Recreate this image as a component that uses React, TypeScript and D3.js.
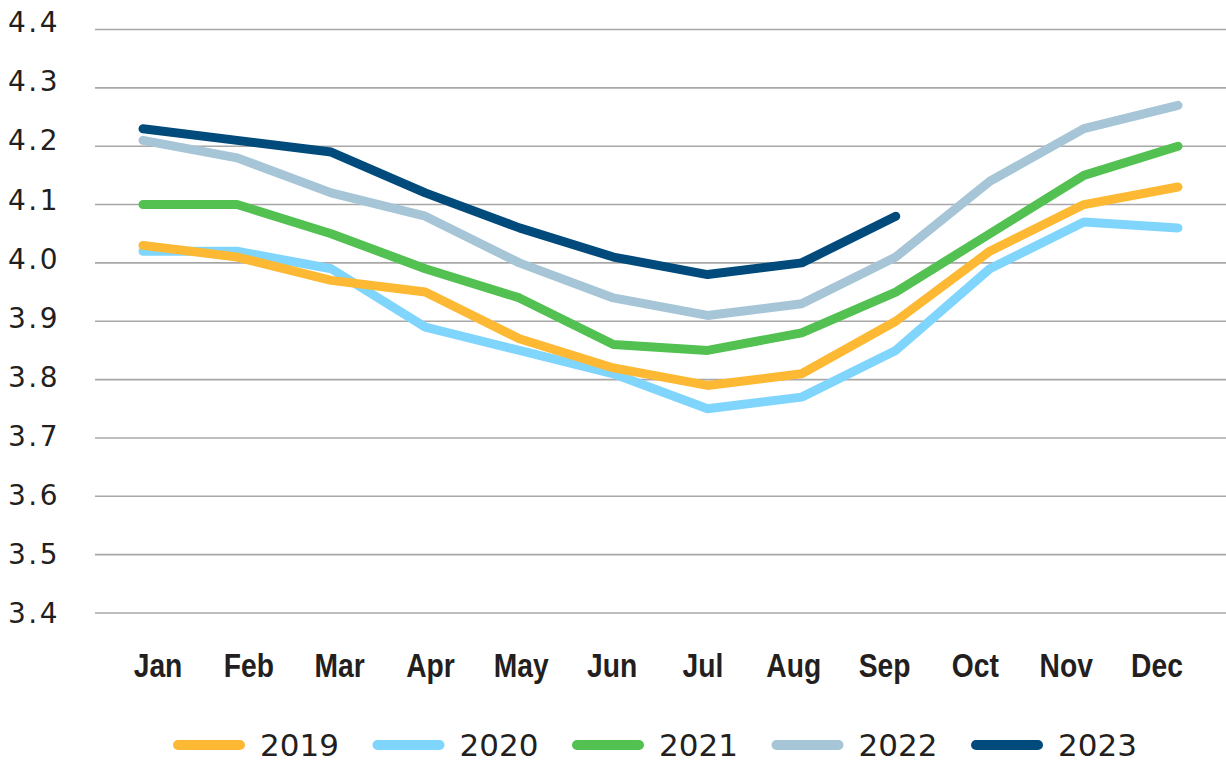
import React from "react";
import * as d3 from "d3";

const months = ["Jan", "Feb", "Mar", "Apr", "May", "Jun", "Jul", "Aug", "Sep", "Oct", "Nov", "Dec"];
const yTicks = [3.4, 3.5, 3.6, 3.7, 3.8, 3.9, 4.0, 4.1, 4.2, 4.3, 4.4];

const v2019 = [4.03, 4.01, 3.97, 3.95, 3.87, 3.82, 3.79, 3.81, 3.9, 4.02, 4.1, 4.13];
const v2020 = [4.02, 4.02, 3.99, 3.89, 3.85, 3.81, 3.75, 3.77, 3.85, 3.99, 4.07, 4.06];
const v2021 = [4.1, 4.1, 4.05, 3.99, 3.94, 3.86, 3.85, 3.88, 3.95, 4.05, 4.15, 4.2];
const v2022 = [4.21, 4.18, 4.12, 4.08, 4.0, 3.94, 3.91, 3.93, 4.01, 4.14, 4.23, 4.27];
const v2023 = [4.23, 4.21, 4.19, 4.12, 4.06, 4.01, 3.98, 4.0, 4.08];

const seriesNames = ["2019", "2020", "2021", "2022", "2023"];
const seriesColors = ["#FDB933", "#80D5FD", "#52C152", "#A6C5D7", "#004B7B"];
const seriesValues = [v2019, v2020, v2021, v2022, v2023];
// drawing order (2019 sits above 2020)
const drawOrder = [1, 0, 2, 3, 4];

const W = 1226;
const H = 761;
const TEXT = "#231F20";

export default function App() {
  const x = d3.scalePoint<string>().domain(months).range([143, 1178]);
  const xLabel = d3.scalePoint<string>().domain(months).range([158, 1157]);
  const y = d3.scaleLinear().domain([3.4, 4.4]).range([613, 29.5]);
  const yLabel = d3.scaleLinear().domain([3.4, 4.4]).range([623, 32.3]);
  const legendX = d3.scalePoint<string>().domain(seriesNames).range([173, 971]);

  const line = d3
    .line<number>()
    .x((_, i) => x(months[i]) as number)
    .y((d) => y(d));

  return (
    <svg
      width={W}
      height={H}
      style={{ position: "absolute", left: 0, top: 0, background: "#fff" }}
    >
      {yTicks.map((t) => (
        <g key={t}>
          <line x1={95} x2={W} y1={y(t)} y2={y(t)} stroke="#A8A8A8" strokeWidth={1.6} />
          <text
            x={8}
            y={yLabel(t)}
            fontFamily="DejaVu Sans, sans-serif"
            fontSize={28}
            letterSpacing={2.5}
            fill={TEXT}
          >
            {t.toFixed(1)}
          </text>
        </g>
      ))}
      {months.map((m) => (
        <text
          key={m}
          transform={`translate(${xLabel(m)},677) scale(0.83,1)`}
          textAnchor="middle"
          fontFamily="'Liberation Sans', Arial, sans-serif"
          fontWeight="bold"
          fontSize={34}
          fill={TEXT}
        >
          {m}
        </text>
      ))}
      {drawOrder.map((i) => (
        <path
          key={seriesNames[i]}
          d={line(seriesValues[i]) as string}
          fill="none"
          stroke={seriesColors[i]}
          strokeWidth={9}
          strokeLinecap="round"
          strokeLinejoin="round"
        />
      ))}
      {seriesNames.map((s, i) => {
        const lx = legendX(s) as number;
        return (
          <g key={s}>
            <line
              x1={lx + 5}
              x2={lx + 67}
              y1={745}
              y2={745}
              stroke={seriesColors[i]}
              strokeWidth={10}
              strokeLinecap="round"
            />
            <text
              x={lx + 87}
              y={755.5}
              fontFamily="DejaVu Sans, sans-serif"
              fontSize={31}
              fill={TEXT}
            >
              {s}
            </text>
          </g>
        );
      })}
    </svg>
  );
}
